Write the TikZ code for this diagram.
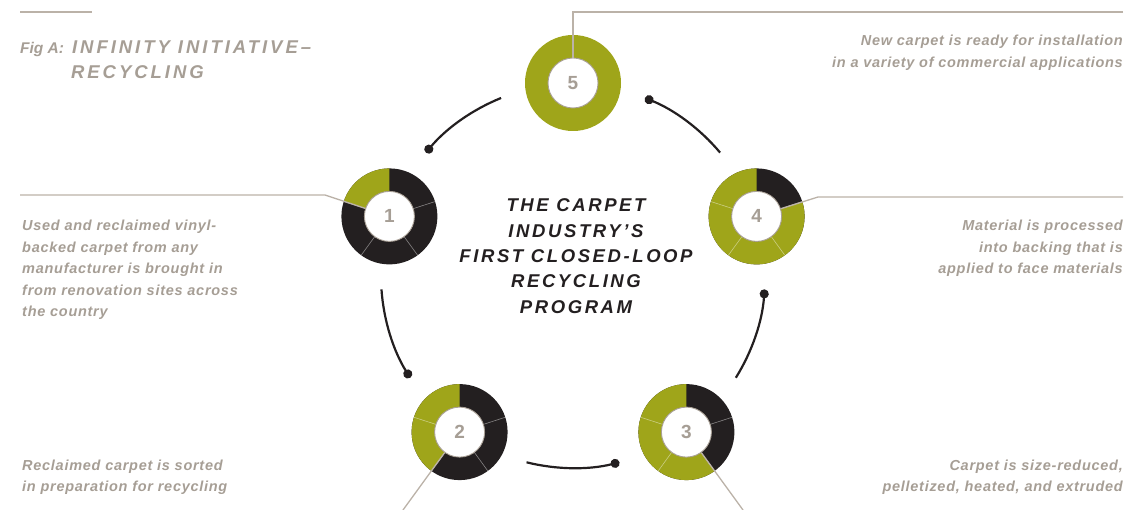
\documentclass[tikz,border=0pt]{standalone}
\usepackage{fontspec}
\setmainfont{Liberation Sans}
\newfontfamily\graytrack[LetterSpace=5]{Liberation Sans}
\newfontfamily\titletrack[LetterSpace=14]{Liberation Sans}
\newfontfamily\headtrack[LetterSpace=16]{Liberation Sans}
\usetikzlibrary{calc,arrows.meta}
\definecolor{olive}{HTML}{9FA51A}
\definecolor{ink}{HTML}{231F20}
\definecolor{warm}{HTML}{A69E95}
\definecolor{rule}{HTML}{BBB2A8}
\definecolor{hubline}{HTML}{A9A096}
\newcommand\graytxt{\graytrack\bfseries\itshape\fontsize{14.5}{21.5}\selectfont}
\newcommand\titlefont{\titletrack\bfseries\itshape\fontsize{18.5}{25.3}\selectfont}
\newcommand\headfont{\headtrack\bfseries\itshape\fontsize{18.5}{25}\selectfont}
\newcommand\figfont{\rmfamily\bfseries\itshape\fontsize{15.5}{25}\selectfont}
\newcommand\hubfont{\bfseries\fontsize{19}{20}\selectfont}
\newcommand\ringsector[4]{\fill[#4] ($(#1)+(#2:48)$) arc[start angle=#2, end angle=#3, radius=48] -- ($(#1)+(#3:25)$) arc[start angle=#3, end angle=#2, radius=25] -- cycle;}
\newcommand\ringseps[1]{\foreach \a in {-18,54,126,-162}{\draw[sepline] ($(#1)+(\a:25)$) -- ($(#1)+(\a:48)$);}}
\begin{document}
\begin{tikzpicture}[x=1pt,y=-1pt,
  leader/.style={draw=rule, line width=1.3pt},
  loopline/.style={draw=ink, line width=2.2pt, -{Circle[length=9pt]}},
  hub/.style={circle, minimum size=50pt, inner sep=0pt, fill=white, draw=hubline, line width=0.9pt, text=warm, font=\hubfont},
  gtext/.style={text=warm, inner sep=0pt, font=\graytxt},
  ctitle/.style={text=ink, inner sep=0pt, font=\titlefont},
  sepline/.style={draw=white, draw opacity=0.45, line width=0.6pt}]
\useasboundingbox (0,0) rectangle (1129,510);
\coordinate (O) at (573,276);
\coordinate (d5) at (573,83);
\coordinate (d1) at (389.4,216.4);
\coordinate (d2) at (459.6,432.1);
\coordinate (d3) at (686.4,432.1);
\coordinate (d4) at (756.6,216.4);
% rings
\fill[olive, even odd rule] (d5) circle[radius=48] (d5) circle[radius=25];
\foreach \d/\g in {d1/-162,d2/-234,d3/-306,d4/-378}{
  \fill[ink, even odd rule] (\d) circle[radius=48] (\d) circle[radius=25];
  \ringsector{\d}{-90}{\g}{olive}
  \ringseps{\d}
}
% hubs
\node[hub] (n5) at (d5) {5};
\node[hub] (n1) at (d1) {1};
\node[hub] (n2) at (d2) {2};
\node[hub] (n3) at (d3) {3};
\node[hub] (n4) at (d4) {4};
% leaders
\draw[leader] (20,12) -- (92,12);
\coordinate (l5a) at (1123,12);
\coordinate (l5b) at (573,12);
\draw[leader] (l5a) -- (l5b) -- (n5);
\coordinate (l1a) at (20,195);
\coordinate (l1b) at (325,195);
\draw[leader] (l1a) -- (l1b) -- (n1);
\coordinate (l4a) at (1123,197);
\coordinate (l4b) at (818,197);
\draw[leader] (l4a) -- (l4b) -- (n4);
\coordinate (l2a) at (403,510);
\draw[leader] (l2a) -- (n2);
\coordinate (l3a) at (743,510);
\draw[leader] (l3a) -- (n3);
% loop arcs
\foreach \a/\nm in {90/s5,162/s1,234/s2,306/s3,378/s4}{
  \coordinate (\nm) at ($(O)+(-\a-22:192)$);
}
\draw[loopline] (s5) arc[start angle=-112, end angle=-140, radius=192];
\draw[loopline] (s1) arc[start angle=-184, end angle=-212, radius=192];
\draw[loopline] (s2) arc[start angle=-256, end angle=-284, radius=192];
\draw[loopline] (s3) arc[start angle=-328, end angle=-356, radius=192];
\draw[loopline] (s4) arc[start angle=-400, end angle=-428, radius=192];
% texts
\node[ctitle, anchor=base] (title) at (576,212) {\begin{tabular}[t]{@{}c@{}}THE CARPET\\INDUSTRY’S\\FIRST CLOSED-LOOP\\RECYCLING\\PROGRAM\end{tabular}};
\node[text=warm, inner sep=0pt, anchor=base west, font=\headfont] (fig) at (20,54) {\begin{tabular}[t]{@{}l@{}}{\figfont Fig A:}\hspace{8pt}INFINITY INITIATIVE–\\\phantom{\figfont Fig A:}\hspace{7pt}RECYCLING\end{tabular}};
\node[gtext, anchor=base west] (t1) at (22,231) {\begin{tabular}[t]{@{}l@{}}Used and reclaimed vinyl-\\backed carpet from any\\manufacturer is brought in\\from renovation sites across\\the country\end{tabular}};
\node[gtext, anchor=base west] (t2) at (22,470) {\begin{tabular}[t]{@{}l@{}}Reclaimed carpet is sorted\\in preparation for recycling\end{tabular}};
\node[gtext, anchor=base east] (t5) at (1123,46) {\begin{tabular}[t]{@{}r@{}}New carpet is ready for installation\\in a variety of commercial applications\end{tabular}};
\node[gtext, anchor=base east] (t4) at (1123,231) {\begin{tabular}[t]{@{}r@{}}Material is processed\\into backing that is\\applied to face materials\end{tabular}};
\node[gtext, anchor=base east] (t3) at (1123,470) {\begin{tabular}[t]{@{}r@{}}Carpet is size-reduced,\\pelletized, heated, and extruded\end{tabular}};
\end{tikzpicture}
\end{document}
